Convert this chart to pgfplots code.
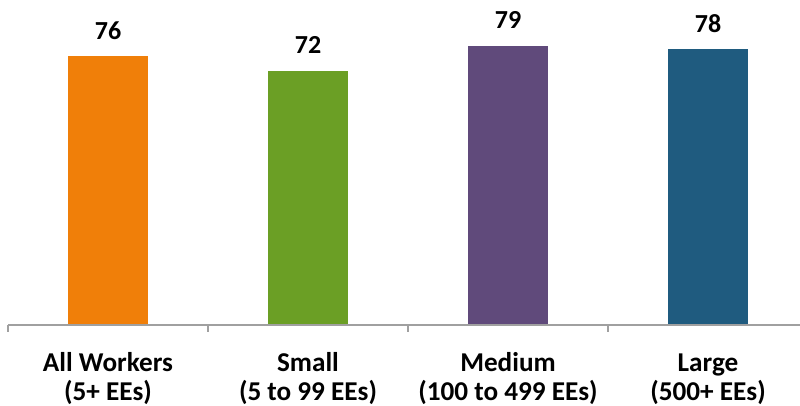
\documentclass[border=0pt]{standalone}
\usepackage{pgfplots}
\pgfplotsset{compat=1.18}
\usepackage{fontspec}
\setmainfont{Carlito}
\definecolor{cOrange}{HTML}{F07F09}
\definecolor{cGreen}{HTML}{6B9F25}
\definecolor{cPurple}{HTML}{604A7B}
\definecolor{cBlue}{HTML}{1F5B7F}
\definecolor{axisgray}{HTML}{A0A0A0}
\begin{document}
\begin{tikzpicture}
\begin{axis}[
  name=ax,
  scale only axis,
  width=396pt, height=162.4pt,
  xmin=-0.5, xmax=3.46,
  ymin=0, ymax=92,
  axis lines=none,
  clip=false,
  xtick=\empty, ytick=\empty,
  bar width=40pt,
  /pgf/number format/assume math mode=true,
  nodes near coords,
  every node near coord/.style={font=\fontsize{13}{15}\selectfont\bfseries, text=black, anchor=south, yshift=5pt},
]
\addplot[ybar, draw=none, fill=cOrange] coordinates {(0,76)};
\addplot[ybar, draw=none, fill=cGreen] coordinates {(1,72)};
\addplot[ybar, draw=none, fill=cPurple] coordinates {(2,79)};
\addplot[ybar, draw=none, fill=cBlue] coordinates {(3,78)};
\draw[axisgray, line width=1pt] (axis cs:-0.5,0) -- (axis cs:3.46,0);
\draw[axisgray, line width=1pt] (axis cs:-0.5,0) -- ([yshift=-3.5pt]axis cs:-0.5,0);
\draw[axisgray, line width=1pt] (axis cs:0.5,0) -- ([yshift=-3.5pt]axis cs:0.5,0);
\draw[axisgray, line width=1pt] (axis cs:1.5,0) -- ([yshift=-3.5pt]axis cs:1.5,0);
\draw[axisgray, line width=1pt] (axis cs:2.5,0) -- ([yshift=-3.5pt]axis cs:2.5,0);
\end{axis}
\begin{scope}[every node/.style={font=\fontsize{13.6}{14.8}\selectfont\bfseries, align=center, anchor=base}]
\node at ([xshift=50pt,yshift=-38pt]ax.south west) {All Workers\\(5+ EEs)};
\node at ([xshift=150pt,yshift=-38pt]ax.south west) {Small\\(5 to 99 EEs)};
\node at ([xshift=250pt,yshift=-38pt]ax.south west) {Medium\\(100 to 499 EEs)};
\node at ([xshift=350pt,yshift=-38pt]ax.south west) {Large\\(500+ EEs)};
\end{scope}
\pgfresetboundingbox
\path[use as bounding box] ([xshift=-4pt,yshift=-40.5pt]ax.south west) rectangle (ax.north east);
\end{tikzpicture}
\end{document}
